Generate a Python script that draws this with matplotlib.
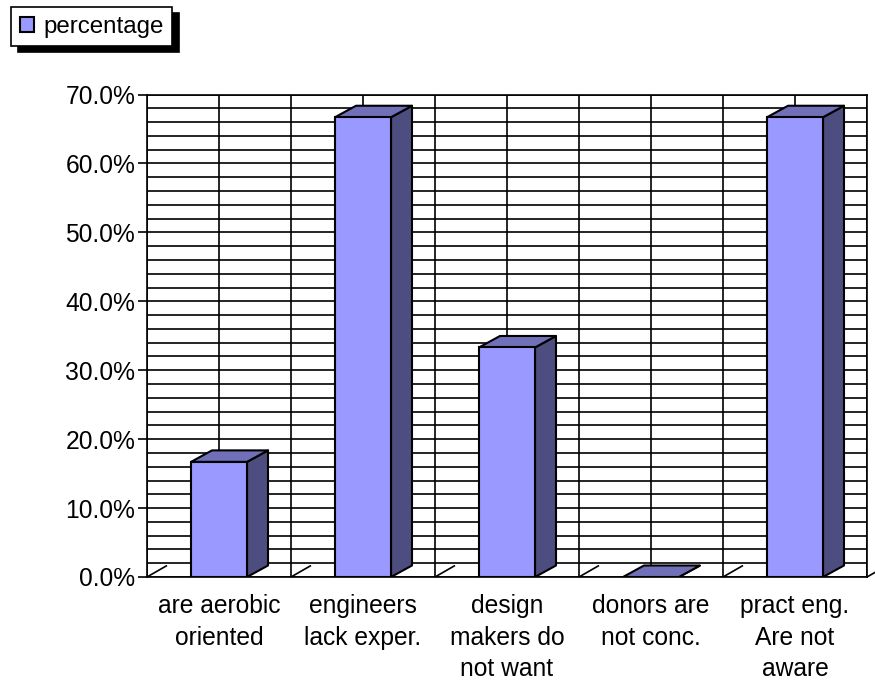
import matplotlib
matplotlib.use('Agg')
import matplotlib.pyplot as plt
from matplotlib.patches import Patch, Polygon
from matplotlib.ticker import FuncFormatter, MultipleLocator

plt.rcParams['font.family'] = ['Liberation Sans', 'DejaVu Sans']

categories = ['are aerobic\noriented', 'engineers\nlack exper.',
              'design\nmakers do\nnot want', 'donors are\nnot conc.',
              'pract eng.\nAre not\naware']
percentage = [16.7, 66.7, 33.3, 0.0, 66.7]

FRONT = '#9999FF'
TOP = '#7070B8'
SIDE = '#4D4D80'
LW = 1.2
BAR_LW = 1.5
FS = 17.7

fig = plt.figure(figsize=(8.75, 6.81), dpi=100)
ax = fig.add_axes([147 / 875, 1 - 577 / 681, 720 / 875, 482.5 / 681])
ax.set_xlim(-0.5, 4.5)
ax.set_ylim(0, 70)

# depth of the fake 3d extrusion, in data units
bar_w = 56 / 144
dx = 21 / 144
dy = 11.5 / 6.893

ax.xaxis.set_major_locator(MultipleLocator(1))
ax.xaxis.set_minor_locator(MultipleLocator(0.5))
ax.yaxis.set_major_locator(MultipleLocator(10))
ax.yaxis.set_minor_locator(MultipleLocator(2))
ax.yaxis.set_major_formatter(FuncFormatter(lambda v, _: f'{v:.1f}%'))
ax.set_xticks(range(len(categories)))
ax.set_xticklabels(categories, linespacing=1.38)
ax.tick_params(axis='x', which='both', length=0, pad=12.5, labelsize=FS)
ax.tick_params(axis='y', which='major', length=6.5, width=LW, pad=2, labelsize=FS)
ax.tick_params(axis='y', which='minor', length=0)
ax.set_axisbelow(True)
ax.grid(True, which='both', color='black', linewidth=LW)
for spine in ax.spines.values():
    spine.set_linewidth(LW)

# short diagonal floor marks at every category boundary
for i in range(len(categories) + 1):
    ax.plot([i - 0.5, i - 0.5 + 20 / 144], [0, dy], color='black', lw=LW,
            clip_on=False, zorder=1.5, solid_capstyle='butt')

for i, v in enumerate(percentage):
    l, r = i - bar_w / 2, i + bar_w / 2
    ax.add_patch(Polygon([(r, 0), (r + dx, dy), (r + dx, v + dy), (r, v)],
                         facecolor=SIDE, edgecolor='black', lw=BAR_LW, zorder=2,
                         joinstyle='round'))
    ax.add_patch(Polygon([(l, v), (l + dx, v + dy), (r + dx, v + dy), (r, v)],
                         facecolor=TOP, edgecolor='black', lw=BAR_LW, zorder=2,
                         joinstyle='round'))
    if v > 0:
        ax.bar(i, v, width=bar_w, color=FRONT, edgecolor='black', lw=BAR_LW, zorder=2.5)

handle = Patch(facecolor=FRONT, edgecolor='black', lw=BAR_LW, label='percentage')
leg = ax.legend(handles=[handle], loc='upper left',
                bbox_to_anchor=(11 / 875, 1 - 7 / 681), bbox_transform=fig.transFigure,
                fontsize=17.4, fancybox=False, framealpha=1, edgecolor='black',
                borderaxespad=0, borderpad=0.36, handlelength=0.6, handleheight=0.6,
                handletextpad=0.37,
                shadow={'color': 'black', 'alpha': 1, 'ox': 5, 'oy': -4.3})
leg.get_frame().set_linewidth(LW)

fig.savefig('out.png', dpi=100)
